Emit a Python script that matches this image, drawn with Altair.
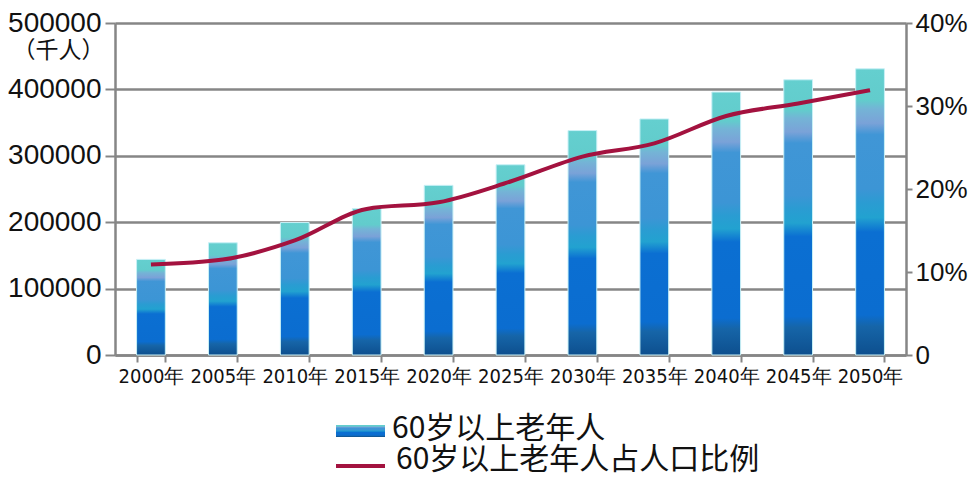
import altair as alt
import pandas as pd

years = ["2000年", "2005年", "2010年", "2015年", "2020年", "2025年",
         "2030年", "2035年", "2040年", "2045年", "2050年"]
elderly = [144000, 169000, 199500, 220500, 255500, 286500,
           338000, 355500, 396000, 414500, 431000]
ratio = [10.9, 11.5, 13.8, 17.6, 18.4, 20.9, 23.9, 25.5, 28.8, 30.3, 31.9]

left_ticks = [0, 100000, 200000, 300000, 400000, 500000]
right_ticks = [0, 10, 20, 30, 40]
legend_bar_label = "60岁以上老年人"
legend_line_label = "60岁以上老年人占人口比例"
unit_label = "（千人）"

df = pd.DataFrame({"year": years, "elderly": elderly, "ratio": ratio})

GRAY = "#868686"
LINE_RED = "#a3123f"
grad = alt.Gradient(
    gradient="linear",
    x1=0, x2=0, y1=1, y2=0,
    stops=[
        alt.GradientStop(color="#0d4f8e", offset=0.0),
        alt.GradientStop(color="#1665a8", offset=0.10),
        alt.GradientStop(color="#0b6dd0", offset=0.14),
        alt.GradientStop(color="#0b6fd2", offset=0.43),
        alt.GradientStop(color="#22a2d0", offset=0.48),
        alt.GradientStop(color="#2a9cd2", offset=0.53),
        alt.GradientStop(color="#3c95d5", offset=0.58),
        alt.GradientStop(color="#4096d6", offset=0.77),
        alt.GradientStop(color="#7aa2d8", offset=0.81),
        alt.GradientStop(color="#74b4d6", offset=0.86),
        alt.GradientStop(color="#62cccc", offset=0.89),
        alt.GradientStop(color="#64cfcf", offset=1.0),
    ],
)

x_enc = alt.X(
    "year:N", sort=years, title=None,
    scale=alt.Scale(paddingInner=0.6, paddingOuter=0.3),
    axis=alt.Axis(
        labelAngle=0, labelFont="DejaVu Sans Condensed, sans-serif",
        labelFontSize=20, labelColor="#111111", labelPadding=4,
        domainColor=GRAY, domainWidth=2.5, tickColor=GRAY, tickWidth=2,
        tickSize=7, tickBand="extent", grid=False,
    ),
)

bars = alt.Chart(df).mark_bar(color=grad, stroke="#c8f0f6", strokeWidth=1).encode(
    x=x_enc,
    y=alt.Y(
        "elderly:Q",
        scale=alt.Scale(domain=[0, 500000], nice=False),
        axis=alt.Axis(
            values=left_ticks, format="d", title=unit_label,
            titleAngle=0, titleX=-57, titleY=27, titleAlign="center",
            titleBaseline="middle", titleFont="Noto Sans CJK SC",
            titleFontSize=23, titleFontWeight="normal", titleColor="#111111",
            labelFont="Liberation Sans, Arial, sans-serif", labelFontSize=28,
            labelColor="#111111", labelPadding=4,
            domainColor=GRAY, domainWidth=2.5, tickColor=GRAY, tickWidth=2,
            tickSize=10, grid=True, gridColor=GRAY, gridWidth=2.5,
        ),
    ),
)

line = alt.Chart(df).mark_line(
    color=LINE_RED, strokeWidth=4, interpolate="monotone"
).encode(
    x=alt.X("year:N", sort=years),
    y=alt.Y(
        "ratio:Q",
        scale=alt.Scale(domain=[0, 40], nice=False),
        axis=alt.Axis(
            orient="right", values=right_ticks, title=None,
            labelExpr="datum.value == 0 ? '0' : datum.value + '%'",
            labelFont="Liberation Sans, Arial, sans-serif", labelFontSize=26,
            labelColor="#111111", labelPadding=3,
            domainColor=GRAY, domainWidth=2.5, tickColor=GRAY, tickWidth=2,
            tickSize=6, grid=False,
        ),
    ),
)

one = pd.DataFrame({"k": [0]})
leg_rect = alt.Chart(one).mark_rect(color=grad).encode(
    x=alt.value(221), x2=alt.value(270), y=alt.value(402), y2=alt.value(414)
)
leg_text1 = alt.Chart(one).mark_text(
    align="left", baseline="middle", font="Noto Sans CJK SC",
    fontSize=30, color="#111111"
).encode(x=alt.value(277), y=alt.value(405.5), text=alt.value(legend_bar_label))
leg_rule = alt.Chart(one).mark_rule(color=LINE_RED, strokeWidth=4).encode(
    x=alt.value(221), x2=alt.value(270), y=alt.value(443)
)
leg_text2 = alt.Chart(one).mark_text(
    align="left", baseline="middle", font="Noto Sans CJK SC",
    fontSize=30, color="#111111"
).encode(x=alt.value(281), y=alt.value(436.5), text=alt.value(legend_line_label))

main = alt.layer(bars, line).resolve_scale(y="independent")

chart = alt.layer(main, leg_rect, leg_text1, leg_rule, leg_text2).properties(
    width=791, height=332,
    autosize=alt.AutoSizeParams(type="none"),
    padding={"left": 107, "top": 15, "right": 63, "bottom": 121},
).configure_view(stroke=None).configure(background="white")

chart.save("out.html", embed_options={"renderer": "svg", "actions": False})
